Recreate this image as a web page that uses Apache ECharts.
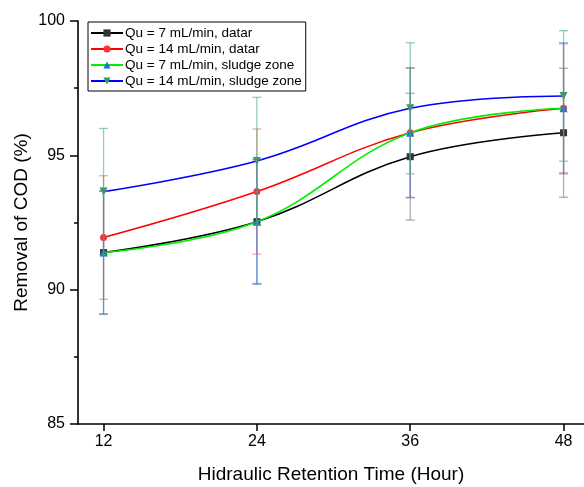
<!DOCTYPE html>
<html><head><meta charset="utf-8">
<script src="https://cdn.jsdelivr.net/npm/echarts@6/dist/echarts.min.js"></script>
<style>html,body{margin:0;padding:0;background:#fff}#c{width:584px;height:487px}</style>
</head><body><div id="c"></div>
<script>
var hrt = [12, 24, 36, 48];
var xTicks = [12, 24, 36, 48];
var names = ['Qu = 7 mL/min, datar', 'Qu = 14 mL/min, datar', 'Qu = 7 mL/min, sludge zone', 'Qu = 14 mL/min, sludge zone'];
var q7Datar = [91.38, 92.53, 94.95, 95.84];
var q14Datar = [91.94, 93.65, 95.84, 96.75];
var q7Sludge = [91.38, 92.53, 95.84, 96.75];
var q14Sludge = [93.65, 94.79, 96.75, 97.21];
var err7Datar = [2.3, 2.3, 2.36, 2.4];
var err14Datar = [2.3, 2.33, 2.4, 2.4];
var err7Sludge = [2.28, 2.33, 2.42, 2.44];
var err14Sludge = [2.35, 2.37, 2.44, 2.43];

var FONT = 'Liberation Sans, Arial, sans-serif';
var values = [q7Datar, q14Datar, q7Sludge, q14Sludge];
var errs = [err7Datar, err14Datar, err7Sludge, err14Sludge];
var lineColors = ['#000000', '#ff0000', '#00ee00', '#0000ff'];
var markColors = ['#333333', '#ff3030', '#1f6fe0', '#2e9e5e'];
var symbols = ['rect', 'circle', 'triangle', 'triangle'];
var rotates = [0, 0, 0, 180];
var sizes = [7, 7, 8, 8];
var errColors = ['rgba(120,120,120,0.6)', 'rgba(240,90,90,0.55)', 'rgba(40,130,230,0.6)', 'rgba(60,170,110,0.55)'];

var series = [];
values.forEach(function (v, i) {
  series.push({
    name: names[i], type: 'line', smooth: 0.4,
    data: hrt.map(function (x, j) { return [x, v[j]]; }),
    symbol: symbols[i], symbolSize: sizes[i], symbolRotate: rotates[i], showAllSymbol: true,
    lineStyle: { color: lineColors[i], width: 1.6 },
    itemStyle: { color: markColors[i] },
    z: 3 + i
  });
});
values.forEach(function (v, i) {
  series.push({
    type: 'custom', name: 'err' + i, z: 10 + i, silent: true,
    data: hrt.map(function (x, j) { return [x, v[j] - errs[i][j], v[j] + errs[i][j]]; }),
    renderItem: function (params, api) {
      var x = api.value(0);
      var lo = api.coord([x, api.value(1)]);
      var hi = api.coord([x, api.value(2)]);
      var w = 4.5;
      var st = { stroke: errColors[i], lineWidth: 1.3 };
      return { type: 'group', children: [
        { type: 'line', shape: { x1: lo[0], y1: lo[1], x2: hi[0], y2: hi[1] }, style: st },
        { type: 'line', shape: { x1: lo[0] - w, y1: lo[1], x2: lo[0] + w, y2: lo[1] }, style: st },
        { type: 'line', shape: { x1: hi[0] - w, y1: hi[1], x2: hi[0] + w, y2: hi[1] }, style: st }
      ] };
    },
    encode: { x: 0, y: [1, 2] }
  });
});

var chart = echarts.init(document.getElementById('c'), null, { renderer: 'canvas' });
chart.setOption({
  animation: false,
  backgroundColor: '#fff',
  grid: { left: 78, top: 21, width: 506, height: 403, containLabel: false, outerBoundsMode: 'none' },
  legend: {
    data: names, orient: 'vertical', left: 88, top: 22,
    itemWidth: 32, itemHeight: 9, itemGap: 2,
    padding: [4, 4, 3, 2],
    borderColor: '#000', borderWidth: 1,
    textStyle: { fontFamily: FONT, fontSize: 13.5, color: '#000', lineHeight: 14, padding: [0, 0, 0, -3] }
  },
  xAxis: {
    type: 'value', min: 10, max: 49.6,
    name: 'Hidraulic Retention Time (Hour)', nameLocation: 'middle', nameGap: 41, nameMoveOverlap: false,
    nameTextStyle: { fontFamily: FONT, fontSize: 19, color: '#000' },
    axisLine: { lineStyle: { color: '#000', width: 1.6 } },
    axisTick: { show: true, customValues: xTicks, length: 7, lineStyle: { color: '#000', width: 1.5 } },
    axisLabel: { customValues: xTicks, fontFamily: FONT, fontSize: 16, color: '#000', margin: 10 },
    splitLine: { show: false }
  },
  yAxis: {
    type: 'value', min: 85, max: 100, interval: 5,
    name: 'Removal of COD (%)', nameLocation: 'middle', nameGap: 47, nameRotate: 90, nameMoveOverlap: false,
    nameTextStyle: { fontFamily: FONT, fontSize: 19, color: '#000' },
    axisLine: { show: true, lineStyle: { color: '#000', width: 1.6 } },
    axisTick: { show: true, length: 8, lineStyle: { color: '#000', width: 1.5 } },
    minorTick: { show: true, splitNumber: 2, length: 4, lineStyle: { color: '#000', width: 1.5 } },
    axisLabel: { fontFamily: FONT, fontSize: 16, color: '#000', margin: 13 },
    splitLine: { show: false }
  },
  series: series
});
</script>
</body></html>
